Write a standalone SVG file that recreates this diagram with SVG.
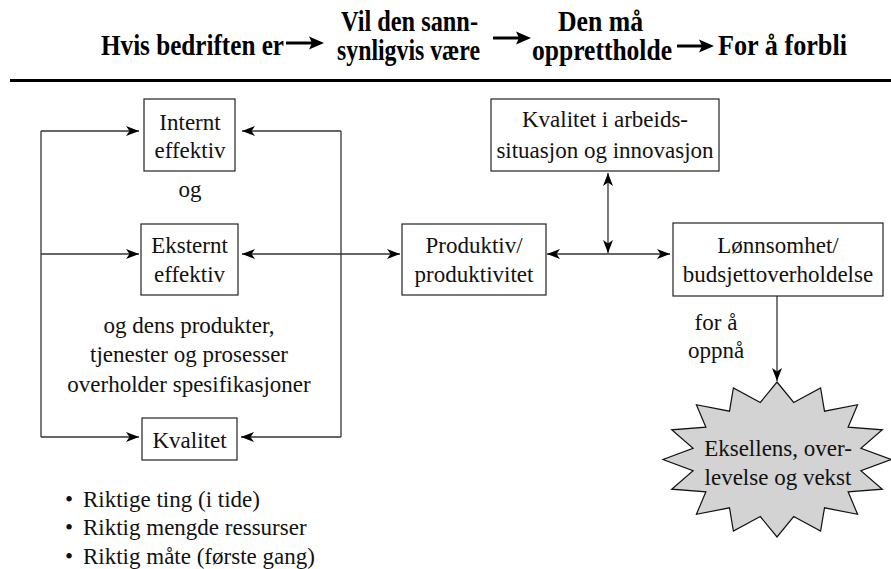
<svg xmlns="http://www.w3.org/2000/svg" width="891" height="569" viewBox="0 0 891 569">
  <style>
    .hd { font-family: "Liberation Serif", "Times New Roman", serif; font-weight: bold; font-size: 29px; fill: #000; }
    .tx { font-family: "Liberation Serif", "Times New Roman", serif; font-size: 23px; fill: #111; }
    .c { text-anchor: middle; }
    .box { fill: #fff; stroke: #222; stroke-width: 1.2; }
    .ln { fill: none; stroke: #333; stroke-width: 1.3; }
    .hdarrow { stroke: #000; stroke-width: 3; }
  </style>
  <defs>
    <marker id="ah" markerUnits="userSpaceOnUse" markerWidth="14" markerHeight="10" refX="13" refY="5" orient="auto-start-reverse">
      <path d="M0,0 L13,5 L0,10 L3.5,5 Z" fill="#000"/>
    </marker>
  </defs>
  <rect width="891" height="569" fill="#fff"/>

  <!-- header row -->
  <g id="header">
    <text class="hd" x="101" y="55" textLength="183" lengthAdjust="spacingAndGlyphs">Hvis bedriften er</text>
    <line class="hdarrow" x1="286" y1="43" x2="313" y2="43"/>
    <polygon points="324,43 309,36.5 312,43 309,49.5" fill="#000"/>
    <text class="hd" x="341" y="31" textLength="137" lengthAdjust="spacingAndGlyphs">Vil den sann-</text>
    <text class="hd" x="337" y="60" textLength="143" lengthAdjust="spacingAndGlyphs">synligvis være</text>
    <line class="hdarrow" x1="493" y1="38" x2="520" y2="38"/>
    <polygon points="531,38 516,31.5 519,38 516,44.5" fill="#000"/>
    <text class="hd" x="558" y="31" textLength="85" lengthAdjust="spacingAndGlyphs">Den må</text>
    <text class="hd" x="532" y="60" textLength="140" lengthAdjust="spacingAndGlyphs">opprettholde</text>
    <line class="hdarrow" x1="677" y1="46" x2="703" y2="46"/>
    <polygon points="714,46 699,39.5 702,46 699,52.5" fill="#000"/>
    <text class="hd" x="718" y="55" textLength="129" lengthAdjust="spacingAndGlyphs">For å forbli</text>
    <rect x="10" y="79" width="881" height="3" fill="#000"/>
  </g>

  <!-- connectors -->
  <g id="connectors">
    <line class="ln" x1="41" y1="131" x2="41" y2="437"/>
    <line class="ln" x1="41" y1="131" x2="139" y2="131" marker-end="url(#ah)"/>
    <line class="ln" x1="41" y1="254" x2="139" y2="254" marker-end="url(#ah)"/>
    <line class="ln" x1="41" y1="437" x2="139" y2="437" marker-end="url(#ah)"/>
    <line class="ln" x1="341" y1="131" x2="341" y2="437"/>
    <line class="ln" x1="341" y1="131" x2="242" y2="131" marker-end="url(#ah)"/>
    <line class="ln" x1="341" y1="437" x2="241" y2="437" marker-end="url(#ah)"/>
    <line class="ln" x1="242" y1="254" x2="400" y2="254" marker-start="url(#ah)" marker-end="url(#ah)"/>
    <line class="ln" x1="547" y1="254" x2="670" y2="254" marker-start="url(#ah)" marker-end="url(#ah)"/>
    <line class="ln" x1="608" y1="173" x2="608" y2="253" marker-start="url(#ah)" marker-end="url(#ah)"/>
    <line class="ln" x1="777" y1="296" x2="777" y2="381" marker-end="url(#ah)"/>
  </g>

  <g id="internt">
    <rect class="box" x="144" y="99" width="91" height="72"/>
    <text class="tx c" x="190" y="130">Internt</text>
    <text class="tx c" x="190" y="158">effektiv</text>
  </g>
  <text class="tx c" x="190" y="197">og</text>

  <g id="eksternt">
    <rect class="box" x="141" y="224" width="97" height="71"/>
    <text class="tx c" x="189.5" y="253">Eksternt</text>
    <text class="tx c" x="189.5" y="282">effektiv</text>
  </g>
  <text class="tx c" x="189" y="333">og dens produkter,</text>
  <text class="tx c" x="189" y="362">tjenester og prosesser</text>
  <text class="tx c" x="189" y="392">overholder spesifikasjoner</text>

  <g id="kvalitet">
    <rect class="box" x="142" y="418" width="95" height="42"/>
    <text class="tx c" x="189.5" y="448">Kvalitet</text>
  </g>

  <g id="bullets">
    <text class="tx" x="65" y="507">•</text>
    <text class="tx" x="83" y="507">Riktige ting (i tide)</text>
    <text class="tx" x="65" y="535">•</text>
    <text class="tx" x="83" y="535">Riktig mengde ressurser</text>
    <text class="tx" x="65" y="564">•</text>
    <text class="tx" x="83" y="564">Riktig måte (første gang)</text>
  </g>

  <g id="arbeid">
    <rect class="box" x="491" y="99" width="228" height="72"/>
    <text class="tx c" x="605" y="127">Kvalitet i arbeids-</text>
    <text class="tx c" x="605" y="158">situasjon og innovasjon</text>
  </g>

  <g id="produktiv">
    <rect class="box" x="402" y="224" width="144" height="71"/>
    <text class="tx c" x="474" y="253">Produktiv/</text>
    <text class="tx c" x="474" y="282">produktivitet</text>
  </g>

  <g id="lonnsomhet">
    <rect class="box" x="673" y="223" width="210" height="73"/>
    <text class="tx c" x="778" y="253">Lønnsomhet/</text>
    <text class="tx c" x="778" y="282">budsjettoverholdelse</text>
  </g>
  <text class="tx c" x="716" y="330">for å</text>
  <text class="tx c" x="716" y="358">oppnå</text>

  <g id="eksellens">
    <polygon fill="#d3d3d3" stroke="#111" stroke-width="1.2" points="777,382 793.7,402.5 820.6,387.9 824.5,411.2 857.6,404.7 848.1,427.2 882.3,429.8 860.9,448.2 891,459.5 860.9,470.8 882.3,489.2 848.1,491.8 857.6,514.3 824.5,507.8 820.6,531.1 793.7,516.5 777,537 760.3,516.5 733.4,531.1 729.5,507.8 696.4,514.3 705.9,491.8 671.7,489.2 693.1,470.8 663,459.5 693.1,448.2 671.7,429.8 705.9,427.2 696.4,404.7 729.5,411.2 733.4,387.9 760.3,402.5"/>
    <text class="tx c" x="778" y="456">Eksellens, over-</text>
    <text class="tx c" x="778" y="485">levelse og vekst</text>
  </g>
</svg>
